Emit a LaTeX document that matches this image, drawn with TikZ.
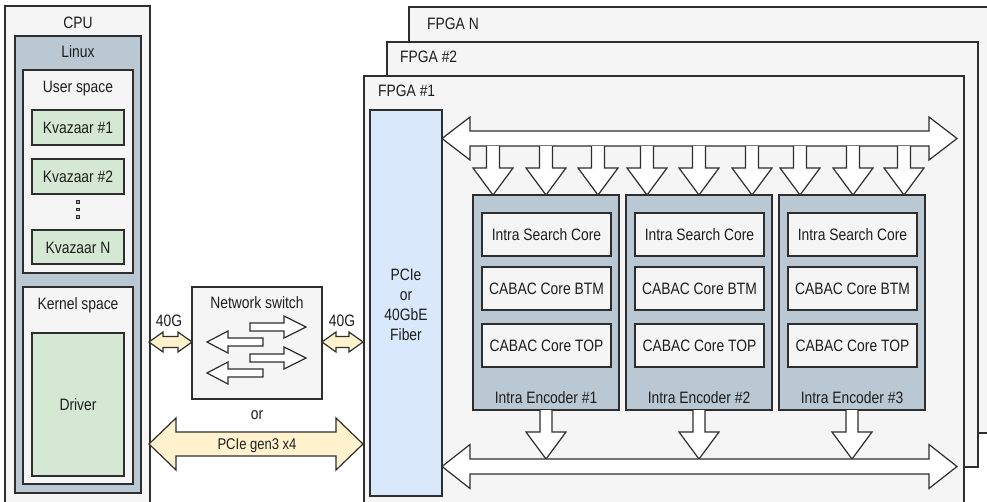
\documentclass[tikz,border=0pt]{standalone}
\usepackage{fontspec}
\setmainfont[FakeStretch=0.84]{Liberation Sans}
\definecolor{linec}{HTML}{2E2E2E}
\definecolor{bgc}{HTML}{F5F5F5}
\definecolor{linuxc}{HTML}{BAC8D3}
\definecolor{kvc}{HTML}{D5E8D4}
\definecolor{pciec}{HTML}{DAE8FC}
\definecolor{yel}{HTML}{FFF2CC}
\definecolor{txt}{HTML}{1E1E1E}
\newcommand\fs{\fontsize{16.5}{20}\selectfont}
\newcommand\fss{\fontsize{15.5}{19}\selectfont}
% double horizontal block arrow: style, x1, x2, y, shaft half, head half, head length
\newcommand\dharr[7]{\draw[#1] (#2,#4) -- ({#2+#7},{#4-#6}) -- ({#2+#7},{#4-#5}) -- ({#3-#7},{#4-#5}) -- ({#3-#7},{#4-#6}) -- (#3,#4) -- ({#3-#7},{#4+#6}) -- ({#3-#7},{#4+#5}) -- ({#2+#7},{#4+#5}) -- ({#2+#7},{#4+#6}) -- cycle;}
% right block arrow: style, tail x, tip x, y, shaft half, head half, head length
\newcommand\rarr[7]{\draw[#1] (#2,{#4-#5}) -- ({#3-#7},{#4-#5}) -- ({#3-#7},{#4-#6}) -- (#3,#4) -- ({#3-#7},{#4+#6}) -- ({#3-#7},{#4+#5}) -- (#2,{#4+#5}) -- cycle;}
% left block arrow: style, tip x, tail x, y, shaft half, head half, head length
\newcommand\larr[7]{\draw[#1] (#3,{#4-#5}) -- ({#2+#7},{#4-#5}) -- ({#2+#7},{#4-#6}) -- (#2,#4) -- ({#2+#7},{#4+#6}) -- ({#2+#7},{#4+#5}) -- (#3,{#4+#5}) -- cycle;}
% down block arrow: style, x, y top, y tip, shaft half, head half, head length
\newcommand\darr[7]{\fill[white] ({#2-#5},#3) -- ({#2-#5},{#4-#7}) -- ({#2-#6},{#4-#7}) -- (#2,#4) -- ({#2+#6},{#4-#7}) -- ({#2+#5},{#4-#7}) -- ({#2+#5},#3) -- cycle;
\draw[#1] ({#2-#5},#3) -- ({#2-#5},{#4-#7}) -- ({#2-#6},{#4-#7}) -- (#2,#4) -- ({#2+#6},{#4-#7}) -- ({#2+#5},{#4-#7}) -- ({#2+#5},#3);}
\tikzset{
  box/.style={draw=linec, line width=1.2pt, anchor=north west, inner sep=0pt, outer sep=0pt},
  lbl/.style={font=\fs, text=txt, inner sep=0pt, anchor=base},
  barrow/.style={draw=linec, line width=1.2pt, fill=white, line join=miter},
  yarrow/.style={barrow, fill=yel},
}
\begin{document}
\begin{tikzpicture}[x=1pt,y=-1pt]
\useasboundingbox[fill=white] (0,0) rectangle (987,501);
% ---------------- CPU side ----------------
\node[box, fill=bgc, minimum width=145pt, minimum height=504pt] (cpu) at (5,6) {};
\node[lbl] (cpul) at (78,28) {CPU};
\node[box, fill=linuxc, minimum width=126pt, minimum height=457pt] (linux) at (15,36) {};
\node[lbl] (linuxl) at (78,57) {Linux};
\node[box, fill=bgc, minimum width=110pt, minimum height=203pt] (user) at (23,70) {};
\node[lbl] (userl) at (78,92) {User space};
\node[box, fill=kvc, minimum width=92pt, minimum height=35pt] (kv1) at (32,110) {};
\node[lbl] at (kv1.center) [yshift=-6pt] {Kvazaar \#1};
\node[box, fill=kvc, minimum width=92pt, minimum height=35pt] (kv2) at (32,159) {};
\node[lbl] at (kv2.center) [yshift=-6pt] {Kvazaar \#2};
\node[box, fill=kvc, minimum width=92pt, minimum height=34pt] (kvn) at (32,230) {};
\node[lbl] at (kvn.center) [yshift=-6pt] {Kvazaar N};
\foreach \yy [count=\i] in {202,209.5,217} {
  \node[draw=linec, fill=linec!40, line width=0.8pt, minimum size=2.6pt, inner sep=0pt] (dot\i) at (78,\yy) {};
}
\node[box, fill=bgc, minimum width=110pt, minimum height=197pt] (kernel) at (23,287) {};
\node[lbl] (kernell) at (78,309) {Kernel space};
\node[box, fill=kvc, minimum width=92pt, minimum height=143pt] (driver) at (32,333) {};
\node[lbl] at (driver.center) [yshift=-6pt] {Driver};
% ---------------- switch ----------------
\node[box, fill=bgc, minimum width=130pt, minimum height=112pt] (sw) at (192,287) {};
\node[lbl] (swl) at (257,308) {Network switch};
\rarr{barrow}{250}{306}{327}{4}{11}{22}
\larr{barrow}{207}{263}{342}{4}{11}{21}
\rarr{barrow}{250}{306}{358}{4}{11}{22}
\larr{barrow}{207}{263}{373}{4}{11}{21}
\node[lbl] (g40l) at (169,326) {40G};
\node[lbl] (g40r) at (342,326) {40G};
\dharr{yarrow}{149}{192}{342}{5.5}{10}{14}
\dharr{yarrow}{322}{363}{342}{5.5}{10}{14}
\node[lbl] (orl) at (257,419) {or};
\dharr{yarrow}{149}{363}{444}{12}{26}{27}
\node[lbl, font=\fss] (pcielink) at (257,449.5) {PCIe gen3 x4};
% ---------------- FPGA stack ----------------
\node[box, fill=bgc, minimum width=600pt, minimum height=426pt] (fpgan) at (409,7) {};
\node[lbl, anchor=base west] (fpganl) at (427,29) {FPGA N};
\node[box, fill=bgc, minimum width=591pt, minimum height=425pt] (fpga2) at (387,42) {};
\node[lbl, anchor=base west] (fpga2l) at (400,62) {FPGA \#2};
\node[box, fill=bgc, minimum width=600pt, minimum height=440pt] (fpga1) at (364,76) {};
\node[lbl, anchor=base west] (fpga1l) at (378,96) {FPGA \#1};
\node[box, fill=pciec, minimum width=72pt, minimum height=386pt] (pcie) at (370,110) {};
\node[font=\fs, text=txt, inner sep=0pt, align=center] (pciel) at (406,305) {PCIe\\or\\40GbE\\Fiber};
% top bus and its down arrows
\dharr{barrow}{442}{957}{138.5}{7.5}{21.5}{28}
\foreach \xx in {493,546,598,647,699,752,800,853,904} {
  \darr{barrow}{\xx}{146}{195}{6.5}{20}{27}
}
% encoders
\foreach \ex/\n in {473/1,626/2,779/3} {
  \node[box, fill=linuxc, minimum width=146pt, minimum height=215pt] (enc\n) at (\ex,195) {};
  \node[lbl] (encl\n) at ({\ex+73},403) {Intra Encoder \#\n};
  \node[box, fill=bgc, minimum width=129pt, minimum height=43pt] (isc\n) at ({\ex+9},213) {};
  \node[lbl] at (isc\n.center) [yshift=-6pt] {Intra Search Core};
  \node[box, fill=bgc, minimum width=129pt, minimum height=43pt] (btm\n) at ({\ex+9},267) {};
  \node[lbl] at (btm\n.center) [yshift=-6pt] {CABAC Core BTM};
  \node[box, fill=bgc, minimum width=129pt, minimum height=43pt] (top\n) at ({\ex+9},324) {};
  \node[lbl] at (top\n.center) [yshift=-6pt] {CABAC Core TOP};
}
% bottom bus and arrows into it
\foreach \xx in {546,699,852} {
  \darr{barrow}{\xx}{410}{459}{6}{20}{27}
}
\dharr{barrow}{442}{957}{466.5}{7.5}{22}{28}
\end{tikzpicture}
\end{document}
